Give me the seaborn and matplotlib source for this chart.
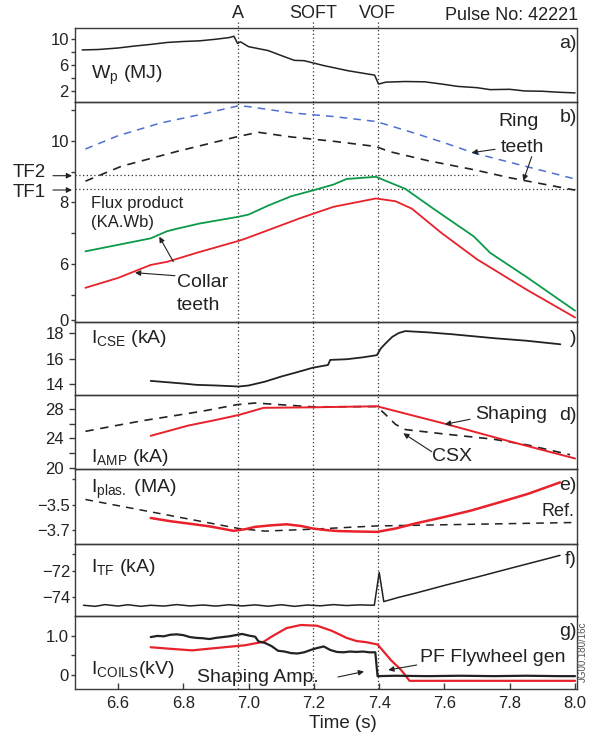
import matplotlib
matplotlib.use("Agg")
import matplotlib.pyplot as plt
import seaborn as sns

# ---------------- data ----------------
# a) stored energy Wp (MJ)
t_wp = [6.49, 6.54, 6.60, 6.65, 6.70, 6.75, 6.80, 6.85, 6.90, 6.94, 6.955, 6.966, 6.975,
        7.00, 7.06, 7.11, 7.14, 7.17, 7.23, 7.305, 7.386, 7.398, 7.42, 7.48, 7.54, 7.60,
        7.64, 7.70, 7.74, 7.80, 7.845, 7.90, 7.95, 8.0]
wp = [8.3, 8.37, 8.6, 8.9, 9.15, 9.45, 9.6, 9.7, 9.95, 10.2, 10.4, 9.3, 9.55,
      8.8, 8.2, 7.25, 6.7, 6.65, 5.9, 5.1, 4.43, 3.05, 3.35, 3.45, 3.4, 3.0,
      2.7, 2.5, 2.2, 2.25, 2.0, 1.95, 1.8, 1.7]

# b) flux product
t_ring = [6.50, 6.60, 6.73, 6.85, 6.97, 7.00, 7.13, 7.26, 7.39, 7.50, 7.60, 7.69, 7.80, 7.90, 8.0]
ring_upper = [9.73, 10.16, 10.57, 10.84, 11.13, 11.1, 10.9, 10.78, 10.62, 10.27, 9.93, 9.6, 9.3, 9.03, 8.76]
t_ring2 = [6.50, 6.61, 6.78, 6.97, 7.03, 7.13, 7.26, 7.39, 7.43, 7.55, 7.69, 7.80, 7.90, 8.0]
ring_lower = [8.69, 9.17, 9.65, 10.14, 10.27, 10.12, 9.98, 9.81, 9.65, 9.35, 9.06, 8.8, 8.6, 8.4]
t_collar_g = [6.50, 6.70, 6.75, 6.78, 6.85, 6.97, 7.00, 7.06, 7.13, 7.20, 7.26, 7.30, 7.39,
              7.48, 7.57, 7.69, 7.74, 7.85, 8.0]
collar_green = [6.42, 6.84, 7.07, 7.15, 7.32, 7.54, 7.61, 7.9, 8.2, 8.4, 8.58, 8.76, 8.83,
                8.44, 7.77, 6.9, 6.37, 5.6, 4.5]
t_collar_r = [6.50, 6.60, 6.70, 6.75, 6.85, 6.97, 6.99, 7.16, 7.26, 7.39, 7.45, 7.50, 7.59,
              7.70, 7.85, 8.0]
collar_red = [5.24, 5.56, 5.98, 6.08, 6.4, 6.76, 6.83, 7.5, 7.86, 8.13, 8.04, 7.8, 7.02,
              6.16, 5.19, 4.28]
tf_levels = {"TF2": 8.88, "TF1": 8.42}

# c) I_CSE (kA)
t_cse = [6.70, 6.80, 6.84, 6.90, 6.97, 7.00, 7.05, 7.10, 7.15, 7.197, 7.243, 7.25, 7.30,
         7.35, 7.393, 7.405, 7.42, 7.44, 7.46, 7.48, 7.55, 7.625, 7.75, 7.85, 7.955]
cse = [14.26, 14.05, 13.95, 13.9, 13.82, 13.9, 14.2, 14.6, 14.95, 15.29, 15.5, 15.9, 15.95,
       16.1, 16.27, 16.8, 17.2, 17.7, 18.0, 18.15, 18.05, 17.9, 17.6, 17.4, 17.12]

# d) I_AMP (kA)
t_csx = [6.50, 6.584, 6.676, 6.768, 6.861, 6.965, 7.02, 7.197, 7.393, 7.42, 7.45, 7.48,
         7.60, 7.75, 7.857, 7.985]
csx = [24.96, 25.66, 26.4, 27.04, 27.7, 28.56, 28.78, 28.26, 28.3, 27.2, 25.9, 25.2,
       24.6, 23.9, 23.1, 21.8]
t_shaping = [6.70, 6.815, 6.90, 6.97, 7.046, 7.197, 7.393, 7.60, 7.80, 8.0]
shaping = [24.36, 25.74, 26.5, 27.17, 28.13, 28.2, 28.34, 26.0, 23.6, 21.3]

# e) I_plasma (MA)
t_ip = [6.70, 6.76, 6.815, 6.88, 6.954, 6.99, 7.02, 7.07, 7.116, 7.16, 7.197, 7.24, 7.277,
        7.33, 7.393, 7.45, 7.51, 7.60, 7.683, 7.77, 7.856, 7.954]
ip = [-3.603, -3.628, -3.646, -3.668, -3.703, -3.69, -3.672, -3.66, -3.652, -3.665, -3.685,
      -3.698, -3.705, -3.708, -3.711, -3.685, -3.646, -3.595, -3.544, -3.48, -3.415, -3.326]
t_ref = [6.50, 6.97, 7.05, 7.197, 7.39, 8.0]
ip_ref = [-3.459, -3.685, -3.705, -3.69, -3.665, -3.638]

# f) I_TF (kA)
t_tf = [6.494, 6.53, 6.56, 6.60, 6.63, 6.67, 6.70, 6.74, 6.78, 6.82, 6.86, 6.90, 6.94, 6.98,
        7.02, 7.06, 7.10, 7.14, 7.18, 7.22, 7.26, 7.30, 7.34, 7.385, 7.400, 7.414, 7.46,
        7.509, 7.60, 7.70, 7.80, 7.90, 7.954]
itf = [-74.6, -74.68, -74.55, -74.66, -74.56, -74.68, -74.6, -74.66, -74.55, -74.65, -74.58,
       -74.66, -74.56, -74.65, -74.57, -74.67, -74.56, -74.68, -74.58, -74.64, -74.55, -74.62,
       -74.57, -74.6, -72.12, -74.32, -74.0, -73.7, -73.1, -72.47, -71.82, -71.18, -70.83]

# g) coil voltages (kV)
t_amp = [6.70, 6.72, 6.74, 6.76, 6.78, 6.80, 6.82, 6.84, 6.86, 6.88, 6.90, 6.92, 6.94, 6.96,
         6.98, 7.00, 7.02, 7.03, 7.05, 7.07, 7.09, 7.11, 7.13, 7.15, 7.17, 7.19, 7.21, 7.23,
         7.25, 7.27, 7.29, 7.31, 7.33, 7.35, 7.37, 7.388, 7.395, 7.45, 7.55, 7.65, 7.75,
         7.85, 7.95, 8.0]
amp = [0.97, 1.0, 0.99, 1.03, 1.04, 1.02, 0.97, 0.95, 0.94, 0.92, 0.95, 0.97, 0.99, 1.02,
       1.05, 1.01, 0.98, 0.86, 0.82, 0.74, 0.62, 0.6, 0.56, 0.55, 0.58, 0.64, 0.69, 0.73,
       0.64, 0.59, 0.58, 0.6, 0.59, 0.6, 0.58, 0.58, -0.03, -0.02, -0.03, -0.02, -0.03,
       -0.02, -0.03, -0.03]
t_pf = [6.70, 6.76, 6.827, 6.90, 6.988, 7.046, 7.07, 7.116, 7.16, 7.21, 7.255, 7.30, 7.33,
        7.36, 7.395, 7.436, 7.467, 7.493, 7.60, 7.80, 8.0]
pf = [0.71, 0.67, 0.63, 0.69, 0.76, 0.85, 0.98, 1.2, 1.28, 1.26, 1.13, 0.95, 0.87, 0.84,
      0.78, 0.38, 0.13, -0.15, -0.15, -0.15, -0.15]

events = {"A": 6.966, "SOFT": 7.196, "VOF": 7.395}
x_ticks = [6.6, 6.8, 7.0, 7.2, 7.4, 7.6, 7.8, 8.0]

# ---------------- style ----------------
sns.set_theme(style="white")
plt.rcParams["font.family"] = ["Liberation Sans", "DejaVu Sans"]
plt.rcParams["mathtext.fontset"] = "custom"
plt.rcParams["mathtext.rm"] = "Liberation Sans"
plt.rcParams["mathtext.it"] = "Liberation Sans:italic"
plt.rcParams["mathtext.bf"] = "Liberation Sans:bold"

RED, GREEN, BLUE, INK = "#e8212b", "#0b9a48", "#4f70cf", "#222222"
W, H = 589, 742
fig = plt.figure(figsize=(W / 100, H / 100), dpi=100)
LEFT, RIGHT = 75, 577
bounds = [(27.5, 102), (102, 321.5), (321.5, 394.7), (394.7, 468.5),
          (468.5, 543.7), (543.7, 616), (616, 689.3)]
axes = []
for top, bot in bounds:
    ax = fig.add_axes([LEFT / W, 1 - bot / H, (RIGHT - LEFT) / W, (bot - top) / H])
    ax.set_xlim(6.468, 8.006)
    for s in ax.spines.values():
        s.set_color("#3a3a3a")
        s.set_linewidth(1.0)
    ax.set_facecolor("none")
    axes.append(ax)

ylims = [(0.3, 11.75), (4.15, 11.25), (13.18, 18.9), (19.95, 29.9),
         (-3.803, -3.218), (-75.41, -69.95), (-0.367, 1.51)]
majors = [[2, 6, 10], [4.2, 6, 8, 10], [14, 16, 18], [20, 24, 28], [-3.7, -3.5],
          [-74, -72], [0, 1.0]]
major_lbl = [["2", "6", "10"], ["0", "6", "8", "10"], ["14", "16", "18"],
             ["20", "24", "28"], ["\u22123.7", "\u22123.5"], ["\u221274", "\u221272"],
             ["0", "1.0"]]
minors = [[4, 8], [5, 7, 9, 11], [], [22, 26], [-3.3], [-70.75], [0.5]]
pads = [1.5, 1.5, 4.0, 4.0, 1.0, 1.0, 1.5]
lens = [3, 3, 4, 4, 2.5, 2.5, 3]
for i, ax in enumerate(axes):
    ax.set_ylim(*ylims[i])
    ax.set_yticks(majors[i])
    ax.set_yticklabels(major_lbl[i])
    ax.set_yticks(minors[i], minor=True)
    ax.tick_params(axis="y", which="both", direction="out", left=True, length=lens[i],
                   width=1.0, color="#3a3a3a", pad=pads[i], labelsize=12, labelcolor=INK)
    ax.tick_params(axis="y", which="minor", length=lens[i])
    ax.set_xticks(x_ticks)
    if i < 6:
        ax.tick_params(axis="x", bottom=False, labelbottom=False)
    else:
        ax.set_xticklabels([f"{v:.1f}" for v in x_ticks])
        ax.tick_params(axis="x", direction="in", bottom=True, length=4, width=1.0,
                       color="#3a3a3a", pad=5, labelsize=12, labelcolor=INK)
    for name, tv in events.items():
        ymax = 1 + 6.5 / 74.5 if i == 0 else 1
        ax.axvline(tv, ymin=0, ymax=ymax, color="#333333", lw=0.9, ls=(0, (1, 2)),
                   clip_on=(i != 0), zorder=1)

dash = (0, (5, 4))
def line(ax, x, y, color=INK, lw=1.1, ls="-"):
    sns.lineplot(x=x, y=y, ax=ax, color=color, lw=lw, linestyle=ls, zorder=3)
    ax.set_xlabel("")
    ax.set_ylabel("")

a, b, c, d, e, f, g = axes
line(a, t_wp, wp)
line(b, t_ring, ring_upper, BLUE, 1.1, dash)
line(b, t_ring2, ring_lower, INK, 1.2, dash)
line(b, t_collar_g, collar_green, GREEN, 1.3)
line(b, t_collar_r, collar_red, RED, 1.3)
b.hlines(tf_levels["TF2"], 6.468, 7.70, color="#333333", lw=0.9, ls=(0, (1, 2)))
b.axhline(tf_levels["TF1"], color="#333333", lw=0.9, ls=(0, (1, 2)))
line(c, t_cse, cse, INK, 1.3)
line(d, t_csx, csx, INK, 1.2, dash)
line(d, t_shaping, shaping, RED, 1.4)
line(e, t_ref, ip_ref, INK, 1.1, dash)
line(e, t_ip, ip, RED, 1.8)
line(f, t_tf, itf, INK, 1.1)
line(g, t_pf, pf, RED, 1.6)
line(g, t_amp, amp, INK, 1.6)

# ---------------- text ----------------
def T(x, y, s, size=13, ha="left", va="center", **kw):
    fig.text(x / W, 1 - y / H, s, size=size, ha=ha, va=va, color=INK, **kw)

def P(x, y):
    return (x / W, 1 - y / H)

def arrow(x0, y0, x1, y1):
    fig.add_artist(matplotlib.patches.FancyArrowPatch(
        P(x0, y0), P(x1, y1), transform=fig.transFigure, arrowstyle="-|>",
        mutation_scale=8, lw=0.8, color=INK, shrinkA=0, shrinkB=0))

for name, x in [("A", 237.5), ("SOFT", 313), ("VOF", 377)]:
    T(x, 13, name, 13, ha="center")
T(578, 15, "Pulse No: 42221", 13, ha="right")
T(577, 43, "a)", 14, ha="right")
T(91, 79, r"W$_\mathrm{p}$ (MJ)", 14, va="baseline")

T(577, 117, "b)", 14, ha="right")
T(519, 122, "Ring", 14, ha="center")
T(522, 147, "teeth", 14, ha="center")
arrow(495, 149.3, 471.7, 152.7)
arrow(531.7, 156.7, 523.3, 180.7)
T(29, 172.5, "TF2", 13.5, ha="center")
T(29, 192.5, "TF1", 13.5, ha="center")
arrow(53, 175.7, 72, 175.7)
arrow(53, 190, 72, 190)
T(91, 203.5, "Flux product", 12)
T(91, 223, "(KA.Wb)", 12)
T(177, 282, "Collar", 14)
T(177, 305, "teeth", 14)
arrow(173.3, 261.7, 159.3, 236.7)
arrow(175, 275.7, 135, 272.7)

T(91, 343.3, r"I$_\mathrm{CSE}$ (kA)", 14, va="baseline")
T(573, 338.3, ")", 14, ha="center")

T(91, 461.7, r"I$_\mathrm{AMP}$ (kA)", 14, va="baseline")
T(577, 415, "d)", 14, ha="right")
T(475, 414.3, "Shaping", 14)
T(431.7, 456, "CSX", 14)
arrow(470, 419.3, 445, 424.3)
arrow(431.7, 451.7, 403.3, 433.3)

T(91, 493.3, r"I$_\mathrm{plas.}$ (MA)", 14, va="baseline")
T(577, 485, "e)", 14, ha="right")
T(574, 511, "Ref.", 13, ha="right")

T(91, 572.3, r"I$_\mathrm{TF}$ (kA)", 14, va="baseline")
T(577, 560, "f)", 14, ha="right")

T(577, 631, "g)", 14, ha="right")
T(91, 674.3, r"I$_\mathrm{COILS}$(kV)", 14, va="baseline")
T(197, 677, "Shaping Amp.", 14)
arrow(338, 677, 364, 671.5)
T(420, 657.7, "PF Flywheel gen", 14)
arrow(416.7, 665, 388.3, 670)
T(583, 652, "JG00.180/16c", 7, ha="center", rotation=90, color="#555555") if False else \
    fig.text(583 / W, 1 - 652 / H, "JG00.180/16c", size=7, ha="center", va="center",
             rotation=90, color="#555555")

T(343, 723, "Time (s)", 13.5, ha="center")

fig.savefig("out.png", dpi=100)
